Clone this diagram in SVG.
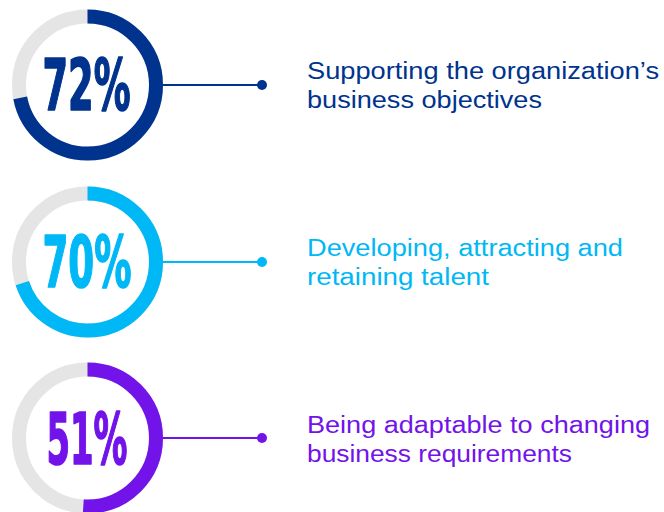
<svg xmlns="http://www.w3.org/2000/svg" width="664" height="512" viewBox="0 0 664 512">
  <style>
    .track { fill: none; stroke: #e5e5e5; stroke-width: 14; }
    .arc { fill: none; stroke-width: 14; }
    .pct { font-family: "Liberation Sans Narrow", "DejaVu Sans Condensed", "Liberation Sans", sans-serif; font-weight: bold; font-size: 72px; stroke-width: 1.6; stroke-linejoin: round; }
    .lbl { font-family: "Liberation Sans", Arial, sans-serif; font-size: 23.5px; }
    .blue { fill: #00338d; }
    .cyan { fill: #00b8f5; }
    .purple { fill: #7213ea; }
    .pct.blue { stroke: #00338d; }
    .pct.cyan { stroke: #00b8f5; }
    .pct.purple { stroke: #7213ea; }
  </style>
  <rect width="664" height="512" fill="#ffffff"/>

  <g id="connectors">
    <line x1="163" y1="85" x2="262" y2="85" stroke="#00338d" stroke-width="2"/>
    <circle cx="262" cy="85" r="5" fill="#00338d"/>
    <line x1="163" y1="262" x2="262" y2="262" stroke="#00b8f5" stroke-width="2"/>
    <circle cx="262" cy="262" r="5" fill="#00b8f5"/>
    <line x1="163" y1="438" x2="262" y2="438" stroke="#7213ea" stroke-width="2"/>
    <circle cx="262" cy="438" r="5" fill="#7213ea"/>
  </g>

  <g id="node-72">
    <circle class="track" cx="87.5" cy="85" r="68.5"/>
    <circle class="arc" cx="87.5" cy="85" r="68.5" stroke="#00338d" pathLength="100" stroke-dasharray="72 100" transform="rotate(-90 87.5 85)"/>
    <text class="pct blue" x="42.5" y="110" textLength="88" lengthAdjust="spacingAndGlyphs">72%</text>
    <text class="lbl blue" x="307" y="79" textLength="352" lengthAdjust="spacingAndGlyphs">Supporting the organization’s</text>
    <text class="lbl blue" x="307" y="108" textLength="235" lengthAdjust="spacingAndGlyphs">business objectives</text>
  </g>

  <g id="node-70">
    <circle class="track" cx="87.5" cy="262" r="68.5"/>
    <circle class="arc" cx="87.5" cy="262" r="68.5" stroke="#00b8f5" pathLength="100" stroke-dasharray="70 100" transform="rotate(-90 87.5 262)"/>
    <text class="pct cyan" x="42.5" y="287" textLength="89" lengthAdjust="spacingAndGlyphs">70%</text>
    <text class="lbl cyan" x="307" y="256" textLength="316" lengthAdjust="spacingAndGlyphs">Developing, attracting and</text>
    <text class="lbl cyan" x="307" y="285" textLength="182" lengthAdjust="spacingAndGlyphs">retaining talent</text>
  </g>

  <g id="node-51">
    <circle class="track" cx="87.5" cy="438" r="68.5"/>
    <circle class="arc" cx="87.5" cy="438" r="68.5" stroke="#7213ea" pathLength="100" stroke-dasharray="51 100" transform="rotate(-90 87.5 438)"/>
    <text class="pct purple" x="46.5" y="464" textLength="81" lengthAdjust="spacingAndGlyphs">51%</text>
    <text class="lbl purple" x="307" y="433" textLength="343" lengthAdjust="spacingAndGlyphs">Being adaptable to changing</text>
    <text class="lbl purple" x="307" y="462" textLength="265" lengthAdjust="spacingAndGlyphs">business requirements</text>
  </g>
</svg>
